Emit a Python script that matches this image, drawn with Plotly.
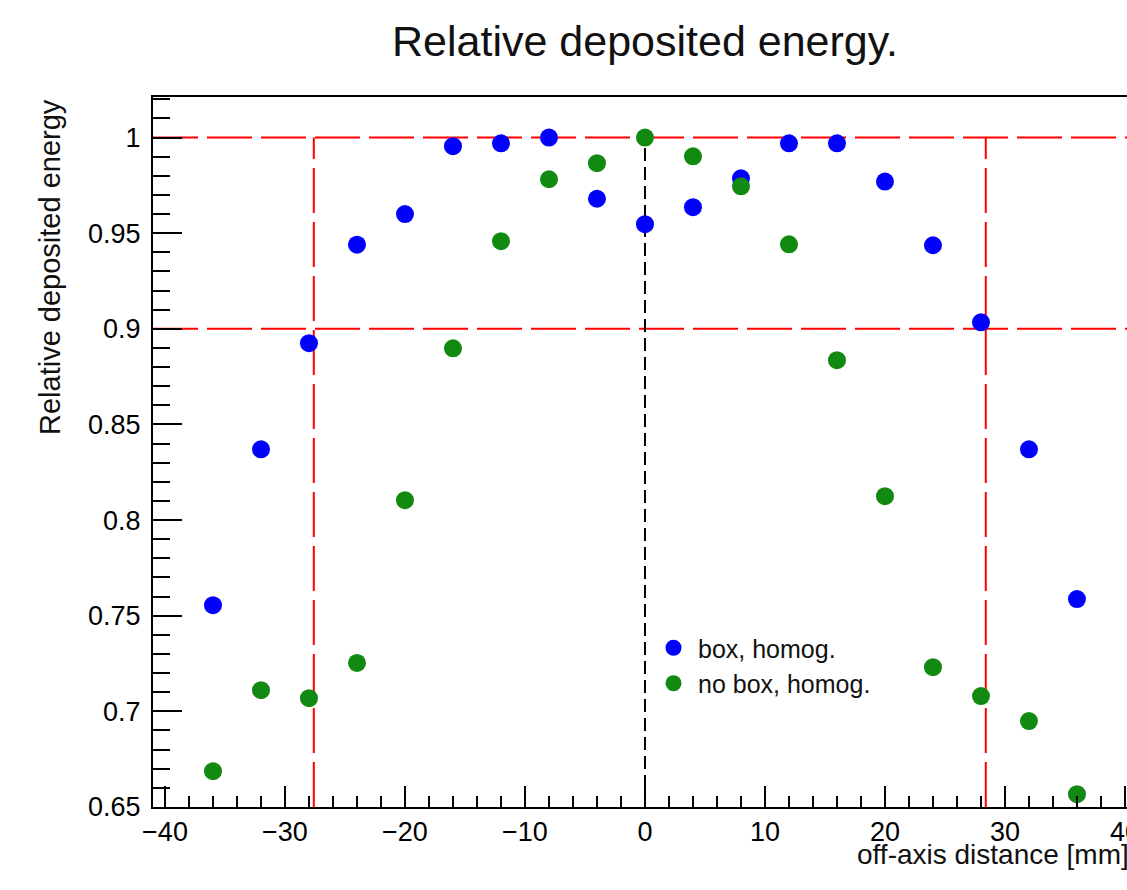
import plotly.graph_objects as go

# ---- data ----
offsets = [-36, -32, -28, -24, -20, -16, -12, -8, -4, 0, 4, 8, 12, 16, 20, 24, 28, 32, 36]
box_homog = [0.7555, 0.837, 0.8925, 0.944, 0.960, 0.9955, 0.997, 1.000, 0.968, 0.9547,
             0.9636, 0.9787, 0.997, 0.997, 0.977, 0.9437, 0.9034, 0.837, 0.7587]
nobox_homog = [0.6687, 0.7111, 0.7069, 0.7253, 0.8104, 0.8898, 0.9458, 0.9782, 0.9866, 1.000,
               0.9902, 0.9745, 0.9442, 0.8836, 0.8125, 0.7231, 0.708, 0.6949, 0.6567]
series_names = ["box, homog.", "no box, homog."]
ref_levels = [1.0, 0.9]          # horizontal red dashed lines
ref_edges = [-27.6, 28.4]        # vertical red dashed lines
center_line = [0]                # black dashed line
y_tickvals = [0.65, 0.7, 0.75, 0.8, 0.85, 0.9, 0.95, 1.0]
y_ticktext = ["0.65", "0.7", "0.75", "0.8", "0.85", "0.9", "0.95", "1"]
x_tickvals = [-40, -30, -20, -10, 0, 10, 20, 30, 40]
x_ticktext = ["\u221240", "\u221230", "\u221220", "\u221210", "0", "10", "20", "30", "40"]

FONT = "Liberation Sans, Arial, sans-serif"
X_RANGE = [-41, 40.17]
Y_RANGE = [0.65, 1.0212]

fig = go.Figure()
fig.add_trace(go.Scatter(x=offsets, y=box_homog, mode="markers", name=series_names[0],
                         marker=dict(color="#0000ff", size=18, line=dict(width=0))))
fig.add_trace(go.Scatter(x=offsets, y=nobox_homog, mode="markers", name=series_names[1],
                         marker=dict(color="#128a12", size=18, line=dict(width=0))))

shapes = []
for lv in ref_levels:
    shapes.append(dict(type="line", xref="paper", yref="y", x0=0, x1=1, y0=lv, y1=lv,
                       line=dict(color="#ff0000", width=2, dash="45px,9px"), layer="below"))
for e in ref_edges:
    shapes.append(dict(type="line", xref="x", yref="y", x0=e, x1=e, y0=Y_RANGE[0], y1=max(ref_levels),
                       line=dict(color="#ff0000", width=2, dash="45px,9px"), layer="below"))
for c in center_line:
    shapes.append(dict(type="line", xref="x", yref="y", x0=c, x1=c, y0=Y_RANGE[0], y1=max(ref_levels),
                       line=dict(color="#000000", width=2, dash="13px,6px"), layer="below"))

fig.update_layout(
    width=1127, height=890,
    margin=dict(l=153, r=0, t=97, b=83, autoexpand=False),
    paper_bgcolor="white", plot_bgcolor="white",
    shapes=shapes,
    title=dict(text="Relative deposited energy.", x=645 / 1127, xref="container", xanchor="center",
               y=1 - 41 / 890, yref="container", yanchor="middle",
               font=dict(family=FONT, size=43, color="#111111")),
    font=dict(family=FONT, color="black"),
    showlegend=True,
    legend=dict(x=(669 - 20 - 153) / 974, xanchor="left", y=(807 - 625) / 710, yanchor="top",
                bgcolor="rgba(0,0,0,0)", font=dict(family=FONT, size=25, color="#111111"),
                itemsizing="trace", itemwidth=39),
    annotations=[
        dict(text="Relative deposited energy", textangle=-90, xref="paper", yref="paper",
             x=(50 - 153) / 974, y=1, xanchor="center", yanchor="top", showarrow=False,
             font=dict(family=FONT, size=29, color="#111111")),
        dict(text="off-axis distance [mm]", xref="paper", yref="paper",
             x=(1131 - 153) / 974, y=-48 / 710, xanchor="right", yanchor="middle", showarrow=False,
             font=dict(family=FONT, size=28, color="#111111")),
    ],
)

fig.update_xaxes(range=X_RANGE, tickvals=x_tickvals, ticktext=x_ticktext,
                 ticks="inside", ticklen=21, tickwidth=2, tickcolor="black",
                 minor=dict(dtick=2, tick0=0, ticks="inside", ticklen=11, tickwidth=2, tickcolor="black"),
                 showline=True, linecolor="black", linewidth=2, mirror=True,
                 showgrid=False, zeroline=False, ticklabeloverflow="allow", automargin=False,
                 tickfont=dict(family=FONT, size=27, color="black"))
fig.update_yaxes(range=Y_RANGE, tickvals=y_tickvals, ticktext=y_ticktext,
                 ticks="inside", ticklen=29, tickwidth=2, tickcolor="black",
                 minor=dict(dtick=0.01, tick0=0.65, ticks="inside", ticklen=17, tickwidth=2, tickcolor="black"),
                 showline=True, linecolor="black", linewidth=2, mirror=False, automargin=False,
                 showgrid=False, zeroline=False, ticklabelstandoff=5,
                 tickfont=dict(family=FONT, size=27, color="black"))

fig.write_html("out.html")
